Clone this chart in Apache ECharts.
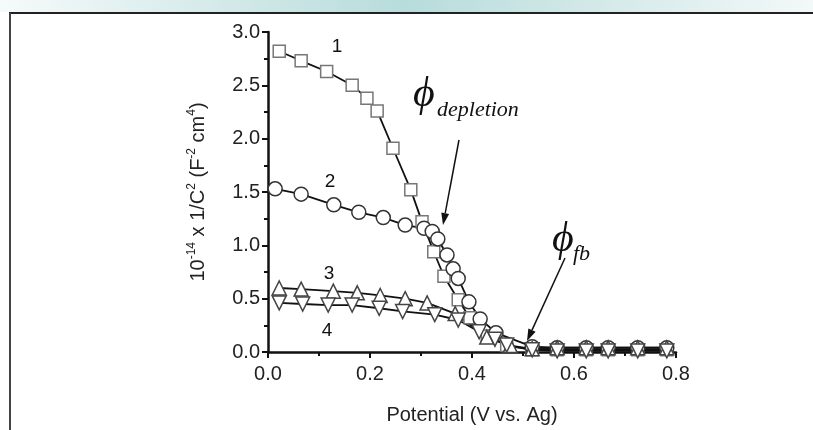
<!DOCTYPE html>
<html>
<head>
<meta charset="utf-8">
<script src="https://cdn.jsdelivr.net/npm/echarts@6/dist/echarts.min.js"></script>
<style>
  html, body { margin: 0; padding: 0; background: #fff; }
  #chart { width: 813px; height: 430px; }
</style>
</head>
<body>
<div id="chart"></div>
<script>
// curve 1, squares
var curve1 = [
  [0.022, 2.82], [0.065, 2.73], [0.115, 2.63], [0.165, 2.50], [0.194, 2.38],
  [0.214, 2.26], [0.245, 1.91], [0.280, 1.52], [0.302, 1.22], [0.325, 0.94],
  [0.345, 0.71], [0.373, 0.49], [0.396, 0.32], [0.430, 0.15], [0.468, 0.06],
  [0.518, 0.02], [0.567, 0.02], [0.624, 0.02], [0.667, 0.02], [0.725, 0.02], [0.782, 0.02]
]
// curve 2, circles
var curve2 = [
  [0.014, 1.53], [0.065, 1.48], [0.129, 1.38], [0.178, 1.31], [0.226, 1.26],
  [0.269, 1.19], [0.306, 1.16], [0.322, 1.13], [0.333, 1.06], [0.351, 0.91],
  [0.363, 0.78], [0.373, 0.69], [0.394, 0.47], [0.416, 0.31], [0.447, 0.18],
  [0.518, 0.05], [0.567, 0.04], [0.624, 0.04], [0.667, 0.04], [0.725, 0.04], [0.782, 0.04]
]
// curve 3, up triangles
var curve3 = [
  [0.022, 0.60], [0.065, 0.59], [0.128, 0.57], [0.175, 0.555], [0.220, 0.53],
  [0.269, 0.50], [0.312, 0.46], [0.367, 0.36], [0.429, 0.14], [0.475, 0.06],
  [0.518, 0.03], [0.567, 0.04], [0.624, 0.04], [0.667, 0.04], [0.725, 0.04], [0.782, 0.04]
]
// curve 4, down triangles
var curve4 = [
  [0.022, 0.46], [0.068, 0.45], [0.118, 0.44], [0.165, 0.44], [0.218, 0.41],
  [0.264, 0.38], [0.327, 0.35], [0.373, 0.30], [0.414, 0.19], [0.445, 0.12],
  [0.468, 0.065], [0.518, 0.02], [0.567, 0.01], [0.624, 0.01], [0.667, 0.01], [0.725, 0.01], [0.782, 0.01]
]
var curveNames = ['1', '2', '3', '4']

var chart = echarts.init(document.getElementById('chart'))

function arrow(x1, y1, x2, y2) {
  var a = Math.atan2(y2 - y1, x2 - x1)
  var len = 12, w = 4
  var bx = x2 - len * Math.cos(a), by = y2 - len * Math.sin(a)
  var px = -Math.sin(a) * w, py = Math.cos(a) * w
  return [
    { type: 'line', shape: { x1: x1, y1: y1, x2: bx, y2: by }, style: { stroke: '#111', lineWidth: 1.5 } },
    { type: 'polygon', shape: { points: [[x2, y2], [bx + px, by + py], [bx - px, by - py]] }, style: { fill: '#111' } }
  ]
}

function serie(name, data, symbol, size, border) {
  return {
    name: name,
    type: 'line',
    data: data,
    symbol: symbol,
    symbolSize: size,
    lineStyle: { color: '#111', width: 1.8 },
    itemStyle: { color: '#fff', borderColor: border, borderWidth: 1.5 },
    z: 3
  }
}

var sans = 'Liberation Sans, Arial'
var labelFont = { fontFamily: sans, fontSize: 19, fill: '#111' }

var option = {
  animation: false,
  backgroundColor: '#fff',
  grid: { left: 268, right: 137, top: 32, bottom: 73 },
  xAxis: {
    type: 'value', min: 0, max: 0.8, interval: 0.2,
    name: 'Potential (V vs. Ag)', nameLocation: 'middle', nameGap: 53,
    nameTextStyle: { fontFamily: sans, fontSize: 20, color: '#222' },
    axisLine: { show: true, lineStyle: { color: '#111', width: 2.5 } },
    axisTick: { show: true, length: 6, lineStyle: { color: '#111', width: 2 } },
    minorTick: { show: true, splitNumber: 2, length: 4, lineStyle: { color: '#111', width: 2 } },
    splitLine: { show: false },
    axisLabel: { fontFamily: sans, fontSize: 20, color: '#222', margin: 12,
      formatter: function (v) { return v.toFixed(1) } }
  },
  yAxis: {
    type: 'value', min: 0, max: 3, interval: 0.5,
    name: '{n|10}{s|-14}{n| x 1/C}{s|2}{n| (F}{s|-2}{n| cm}{s|4}{n|)}',
    nameLocation: 'middle', nameGap: 60, nameRotate: 90,
    nameTextStyle: {
      rich: {
        n: { fontFamily: sans, fontSize: 20, color: '#222', lineHeight: 24, verticalAlign: 'bottom' },
        s: { fontFamily: sans, fontSize: 12, color: '#222', lineHeight: 24, verticalAlign: 'top', padding: [2, 0, 0, 0] }
      }
    },
    axisLine: { show: true, lineStyle: { color: '#111', width: 2.5 } },
    axisTick: { show: true, length: 6, lineStyle: { color: '#111', width: 2 } },
    minorTick: { show: true, splitNumber: 2, length: 4, lineStyle: { color: '#111', width: 2 } },
    splitLine: { show: false },
    axisLabel: { fontFamily: sans, fontSize: 20, color: '#222', margin: 8,
      formatter: function (v) { return v.toFixed(1) } }
  },
  series: [
    serie(curveNames[0], curve1, 'rect', 12, '#777'),
    serie(curveNames[1], curve2, 'circle', 14, '#333'),
    serie(curveNames[2], curve3, 'triangle', 14, '#444'),
    serie(curveNames[3], curve4, 'path://M0,0L10,0L5,9Z', 14, '#444')
  ],
  graphic: [
    { type: 'rect', shape: { x: 0, y: 0, width: 813, height: 12 }, silent: true,
      style: { fill: new echarts.graphic.LinearGradient(0, 0, 1, 0, [
        { offset: 0, color: '#f6fafa' }, { offset: 0.5, color: '#b7dcdb' }, { offset: 1, color: '#f3f8f8' }]) } },
    { type: 'line', shape: { x1: 9, y1: 13, x2: 813, y2: 13 }, style: { stroke: '#222', lineWidth: 2 } },
    { type: 'line', shape: { x1: 10, y1: 13, x2: 10, y2: 430 }, style: { stroke: '#444', lineWidth: 2 } },
    { type: 'text', x: 337, y: 47, style: Object.assign({ text: curveNames[0], align: 'center', verticalAlign: 'middle' }, labelFont) },
    { type: 'text', x: 330, y: 182, style: Object.assign({ text: curveNames[1], align: 'center', verticalAlign: 'middle' }, labelFont) },
    { type: 'text', x: 329, y: 274, style: Object.assign({ text: curveNames[2], align: 'center', verticalAlign: 'middle' }, labelFont) },
    { type: 'text', x: 327, y: 331, style: Object.assign({ text: curveNames[3], align: 'center', verticalAlign: 'middle' }, labelFont) },
    { type: 'text', x: 413, y: 95, style: { text: 'ϕ', fontFamily: 'Liberation Serif', fontStyle: 'italic', fontSize: 42, fill: '#111', verticalAlign: 'middle' } },
    { type: 'text', x: 437, y: 110, style: { text: 'depletion', fontFamily: 'Liberation Serif', fontStyle: 'italic', fontSize: 22, fill: '#111', verticalAlign: 'middle' } },
    { type: 'text', x: 552, y: 240, style: { text: 'ϕ', fontFamily: 'Liberation Serif', fontStyle: 'italic', fontSize: 42, fill: '#111', verticalAlign: 'middle' } },
    { type: 'text', x: 573, y: 254, style: { text: 'fb', fontFamily: 'Liberation Serif', fontStyle: 'italic', fontSize: 22, fill: '#111', verticalAlign: 'middle' } }
  ].concat(arrow(459, 140, 443, 225), arrow(565, 258, 527, 341))
}
chart.setOption(option)
</script>
</body>
</html>
